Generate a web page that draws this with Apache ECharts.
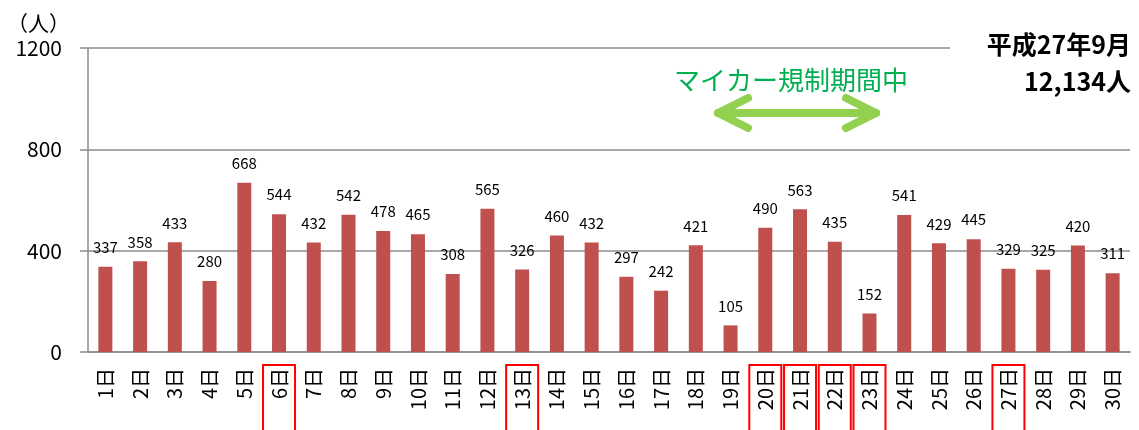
<!DOCTYPE html>
<html>
<head>
<meta charset="utf-8">
<script src="https://cdn.jsdelivr.net/npm/echarts@6/dist/echarts.min.js"></script>
<style>
  html, body { margin: 0; padding: 0; background: #fff; }
  #main { width: 1139px; height: 430px; }
</style>
</head>
<body>
<div id="main"></div>
<script>
var days = [];
for (var d = 1; d <= 30; d++) days.push(d + '日');
var visitors = [337, 358, 433, 280, 668, 544, 432, 542, 478, 465,
  308, 565, 326, 460, 432, 297, 242, 421, 105, 490,
  563, 435, 152, 541, 429, 445, 329, 325, 420, 311];
var holidays = ['6日', '13日', '20日', '21日', '22日', '23日', '27日'];
var yTicks = [0, 400, 800, 1200];
var titleLines = ['平成27年9月', '12,134人'];
var periodText = 'マイカー規制期間中';

var font = '"Noto Sans CJK JP", "Noto Sans", sans-serif';
var chart = echarts.init(document.getElementById('main'));

var option = {
  animation: false,
  textStyle: { fontFamily: font },
  grid: { left: 88, right: 9, top: 48, bottom: 78 },
  xAxis: {
    type: 'category',
    data: days,
    axisLine: { lineStyle: { color: '#8c8c8c', width: 1.5 } },
    axisTick: { length: 6, lineStyle: { color: '#8c8c8c', width: 1.5 } },
    axisLabel: { rotate: 90, color: '#000', fontSize: 20, margin: 16, fontFamily: font }
  },
  yAxis: {
    type: 'value',
    min: yTicks[0],
    max: yTicks[yTicks.length - 1],
    interval: 400,
    name: '（人）',
    nameLocation: 'end',
    nameGap: 14,
    nameTextStyle: { color: '#000', fontSize: 21, align: 'right', padding: [0, 18, 0, 0] },
    axisLine: { show: true, lineStyle: { color: '#8c8c8c', width: 1.5 } },
    axisTick: { show: true, length: 8, lineStyle: { color: '#8c8c8c', width: 1.5 } },
    axisLabel: { color: '#000', fontSize: 21, margin: 26, fontFamily: font, formatter: function (v) { return String(v); } },
    splitLine: { lineStyle: { color: '#8c8c8c', width: 1.5 } }
  },
  series: [{
    type: 'bar',
    data: visitors,
    barWidth: 14,
    itemStyle: { color: '#C0504D' },
    label: { show: true, position: 'top', distance: 12, color: '#000', fontSize: 15, fontFamily: font }
  }]
};
chart.setOption(option);

// overlays: holiday boxes, regulation period arrow, title block
var graphics = [];
holidays.forEach(function (h) {
  var cx = chart.convertToPixel({ xAxisIndex: 0 }, days.indexOf(h));
  graphics.push({
    type: 'rect',
    shape: { x: cx - 16, y: 365, width: 32, height: 80 },
    style: { fill: 'none', stroke: '#ff0000', lineWidth: 2 }
  });
});

var ay = 113, ax1 = 718, ax2 = 876;
graphics.push({
  type: 'polyline',
  shape: { points: [[ax1, ay], [ax2, ay]] },
  style: { stroke: '#92D050', lineWidth: 8, lineCap: 'round' }
});
graphics.push({
  type: 'polyline',
  shape: { points: [[ax1 + 30, ay - 15], [ax1, ay], [ax1 + 30, ay + 15]] },
  style: { stroke: '#92D050', fill: 'none', lineWidth: 8, lineCap: 'round', lineJoin: 'round' }
});
graphics.push({
  type: 'polyline',
  shape: { points: [[ax2 - 30, ay - 15], [ax2, ay], [ax2 - 30, ay + 15]] },
  style: { stroke: '#92D050', fill: 'none', lineWidth: 8, lineCap: 'round', lineJoin: 'round' }
});
graphics.push({
  type: 'text',
  x: 791, y: 80,
  style: { text: periodText, fill: '#00B050', font: '26px ' + font, align: 'center', verticalAlign: 'middle' }
});

graphics.push({
  type: 'rect',
  shape: { x: 950, y: 22, width: 189, height: 80 },
  style: { fill: '#fff' }
});
graphics.push({
  type: 'text',
  x: 1131, y: 44,
  style: { text: titleLines[0], fill: '#000', font: 'bold 25px ' + font, align: 'right', verticalAlign: 'middle' }
});
graphics.push({
  type: 'text',
  x: 1131, y: 81,
  style: { text: titleLines[1], fill: '#000', font: 'bold 25px ' + font, align: 'right', verticalAlign: 'middle' }
});

chart.setOption({ graphic: graphics });
</script>
</body>
</html>
